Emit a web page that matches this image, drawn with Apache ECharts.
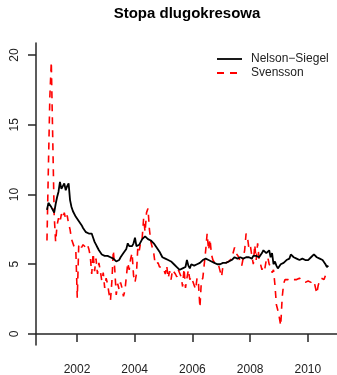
<!DOCTYPE html>
<html>
<head>
<meta charset="utf-8">
<script src="https://cdn.jsdelivr.net/npm/echarts@6/dist/echarts.min.js"></script>
<style>
  html, body { margin: 0; padding: 0; background: #ffffff; }
  #chart { width: 337px; height: 375px; }
</style>
</head>
<body>
<div id="chart"></div>
<script>
// Long-term rate estimates, sampled every 0.05 year starting at startYear
const startYear = 2000.96;
const stepYear = 0.05;

const nelsonSiegel = [
  8.9, 9.4, 9.5, 9.1, 8.9, 8.7, 9.3, 9.8, 10.2, 10.9,
  10.4, 10.5, 10.8, 10.3, 10.6, 10.8, 9.6, 9.1, 8.8, 8.7,
  8.4, 8.5, 8.1, 8.0, 7.8, 7.6, 7.5, 7.3, 7.4, 7.2,
  7.3, 7.2, 6.9, 6.6, 6.4, 6.2, 6.0, 5.9, 5.7, 5.8,
  5.6, 5.7, 5.6, 5.7, 5.5, 5.6, 5.4, 5.3, 5.2, 5.1,
  5.3, 5.5, 5.6, 5.8, 5.9, 6.1, 6.5, 6.3, 6.2, 6.3,
  6.5, 6.9, 6.3, 6.2, 6.4, 6.5, 6.8, 6.9, 7.0, 6.9,
  6.8, 6.7, 6.7, 6.6, 6.5, 6.4, 6.2, 6.1, 5.9, 5.7,
  5.5, 5.5, 5.4, 5.4, 5.3, 5.3, 5.2, 5.1, 5.0, 4.9,
  4.8, 4.7, 4.6, 4.7, 4.7, 4.6, 4.8, 5.3, 4.9, 4.7,
  5.0, 5.1, 4.9, 4.8, 5.0, 5.1, 5.1, 5.2, 5.3, 5.4,
  5.4, 5.3, 5.3, 5.2, 5.2, 5.1, 5.1, 5.0, 5.0, 4.9,
  5.0, 5.1, 5.1, 5.0, 5.1, 5.2, 5.2, 5.3, 5.3, 5.4,
  5.5, 5.4, 5.4, 5.4, 5.5, 5.5, 5.4, 5.4, 5.5, 5.5,
  5.5, 5.4, 5.4, 5.6, 5.7, 5.6, 5.5, 5.5, 5.6, 5.8,
  6.0, 5.9, 5.8, 5.9, 6.0, 5.5, 5.8, 5.0, 5.2, 4.9,
  4.7, 4.8, 5.0, 5.1, 5.1, 5.2, 5.3, 5.3, 5.4, 5.7,
  5.6, 5.5, 5.5, 5.4, 5.4, 5.3, 5.3, 5.4, 5.4, 5.3,
  5.2, 5.3, 5.4, 5.5, 5.6, 5.7, 5.6, 5.5, 5.5, 5.4,
  5.3, 5.3, 5.2, 5.0, 4.8, 4.9
];

const svensson = [
  6.7, 12.0, 17.0, 19.5, 14.0, 8.5, 6.6, 7.8, 8.3, 8.0,
  8.6, 8.3, 8.7, 8.2, 8.5, 7.9, 7.5, 6.8, 6.7, 6.2,
  6.0, 2.6, 6.3, 6.5, 6.2, 6.4, 6.3, 6.2, 6.4, 6.1,
  5.6, 4.3, 5.8, 4.5, 5.4, 4.3, 5.1, 4.5, 3.8, 4.4,
  3.3, 4.0, 3.6, 2.9, 2.4, 3.8, 6.0, 4.6, 2.8, 3.6,
  3.2, 3.7, 3.3, 2.7, 3.1, 4.1, 5.1, 4.6, 5.4, 5.8,
  4.2, 3.7, 4.3, 6.3, 6.0, 6.6, 6.9, 8.3, 7.3, 8.7,
  9.0, 7.5, 6.6, 6.2, 5.8, 5.0, 4.9, 5.1, 4.8, 4.9,
  4.8, 4.6, 4.3, 4.9, 4.0, 4.5, 3.9, 4.6, 4.7, 4.3,
  4.1, 4.6, 4.5, 4.1, 3.4, 4.7, 3.3, 4.0, 4.6, 3.9,
  4.1, 4.0, 3.5, 3.2, 4.0, 3.6, 1.9, 3.8, 4.0, 4.1,
  6.0, 7.2, 6.0, 6.8, 5.7, 5.3, 5.2, 5.0, 5.0, 4.9,
  4.8, 4.1, 4.9, 5.0, 5.1, 5.0, 5.2, 5.3, 5.4, 5.8,
  6.2, 5.8, 5.9, 5.5, 5.1, 4.9, 5.0, 6.0, 7.2, 6.9,
  6.1, 6.3, 5.6, 5.0, 6.4, 5.3, 6.5, 5.4, 5.0, 4.6,
  4.9, 4.7, 5.3, 5.5, 5.0, 4.8, 4.4, 4.6, 3.5, 2.1,
  1.7, 1.2, 0.6, 2.6, 3.6, 3.9, 3.8, 3.9, 3.9, 3.8,
  3.9, 3.9, 3.8, 3.9, 3.9, 4.0, 3.9, 3.8, 3.8, 3.7,
  3.7, 3.8, 3.9, 3.7, 3.6, 3.8, 3.9, 2.9, 3.5, 3.8,
  4.0, 4.1, 3.9, 4.2, 4.1, 4.2
];

const yearTicks = [2002, 2004, 2006, 2008, 2010];
const rateTicks = [0, 5, 10, 15, 20];
const seriesNames = ['Nelson−Siegel', 'Svensson'];
const seriesColors = ['#000000', '#ff0000'];
const dashPattern = [7, 6];

const toPairs = (values) => values.map((v, i) => [startYear + i * stepYear, v]);

const chart = echarts.init(document.getElementById('chart'), null, { renderer: 'canvas' });

const fontFamily = 'Liberation Sans, Arial, sans-serif';
const axisColor = '#262626';
const labelFont = { fontFamily: fontFamily, fontSize: 12, color: '#222' };

// Key drawn as plain graphics so the dashed stroke shows in the sample line
const legendX = 217, legendY = 59, legendRow = 14, legendLine = 25;
const legendGraphics = [];
seriesNames.forEach((name, k) => {
  const y = legendY + k * legendRow;
  legendGraphics.push({
    type: 'line',
    shape: { x1: legendX, y1: y, x2: legendX + legendLine, y2: y },
    style: { stroke: seriesColors[k], lineWidth: 1.8, lineDash: k === 1 ? dashPattern : null }
  });
  legendGraphics.push({
    type: 'text',
    x: legendX + legendLine + 9,
    y: y,
    style: { text: name, fontFamily: fontFamily, fontSize: 12, fill: '#222', verticalAlign: 'middle', align: 'left' }
  });
});

chart.setOption({
  animation: false,
  backgroundColor: '#ffffff',
  title: {
    text: 'Stopa dlugokresowa',
    left: 187,
    top: 6,
    padding: 0,
    textAlign: 'center',
    textStyle: { fontFamily: fontFamily, fontSize: 15, fontWeight: 'bold', color: '#000' }
  },
  graphic: legendGraphics,
  grid: { left: 36, right: 0, top: 43, bottom: 30, containLabel: false, outerBoundsMode: 'none' },
  xAxis: {
    type: 'value',
    min: 2000.58,
    max: 2011.01,
    splitLine: { show: false },
    axisLine: { show: true, lineStyle: { color: axisColor, width: 1.5 } },
    axisTick: { show: true, length: 8, customValues: yearTicks, lineStyle: { color: axisColor, width: 1.5 } },
    axisLabel: Object.assign({ customValues: yearTicks, margin: 19, formatter: (v) => String(v) }, labelFont)
  },
  yAxis: {
    type: 'value',
    min: -0.79,
    max: 20.86,
    splitLine: { show: false },
    axisLine: { show: true, lineStyle: { color: axisColor, width: 1.5 } },
    axisTick: { show: true, length: 8, customValues: rateTicks, lineStyle: { color: axisColor, width: 1.5 } },
    axisLabel: Object.assign({ customValues: rateTicks, rotate: 90, margin: 15, formatter: (v) => String(v) }, labelFont)
  },
  series: [
    {
      name: seriesNames[0],
      type: 'line',
      data: toPairs(nelsonSiegel),
      symbol: 'none',
      lineStyle: { color: seriesColors[0], width: 1.8 },
      itemStyle: { color: seriesColors[0] },
      z: 3
    },
    {
      name: seriesNames[1],
      type: 'line',
      data: toPairs(svensson),
      symbol: 'none',
      lineStyle: { color: seriesColors[1], width: 1.6, type: dashPattern },
      itemStyle: { color: seriesColors[1] },
      z: 2
    }
  ]
});
</script>
</body>
</html>
